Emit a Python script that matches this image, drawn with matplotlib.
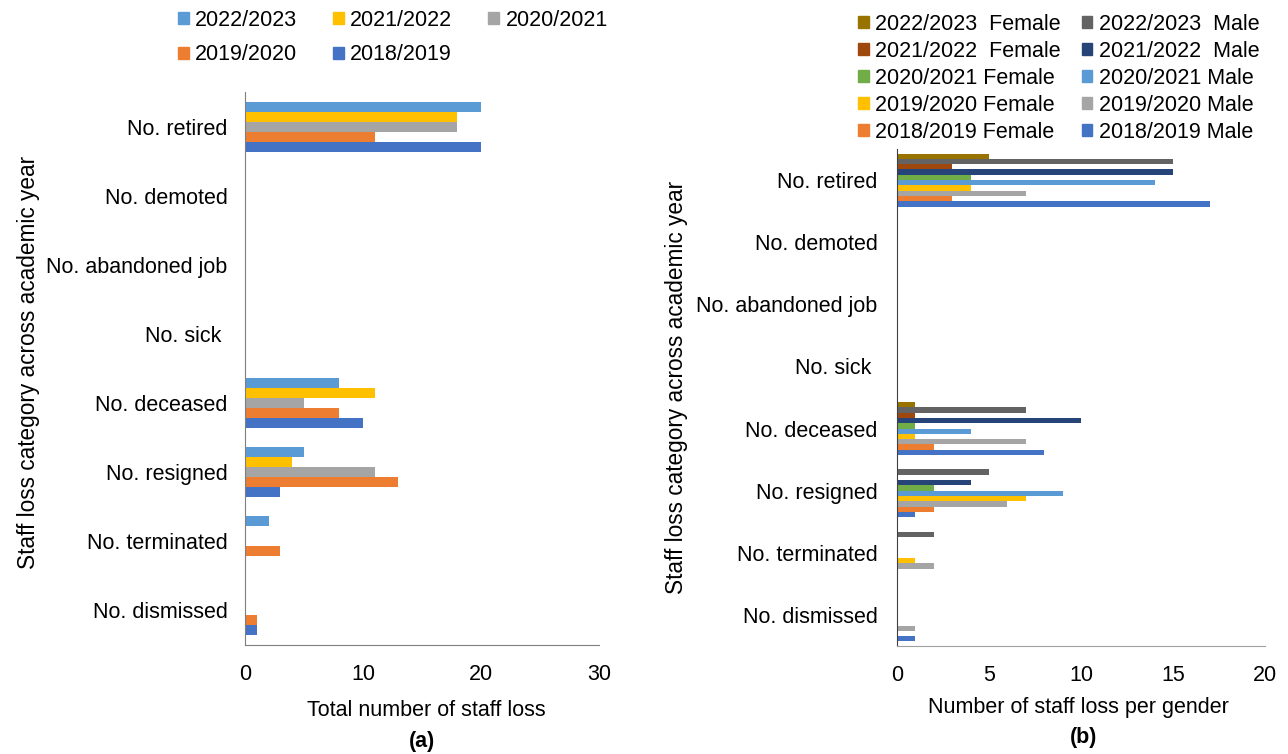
import numpy as np
import matplotlib
matplotlib.use("Agg")
import matplotlib.pyplot as plt
from matplotlib.patches import Patch

plt.rcParams['font.family'] = ['Liberation Sans', 'DejaVu Sans']
plt.rcParams['font.size'] = 15.5

# categories, top to bottom as shown
categories = ["No. retired", "No. demoted", "No. abandoned job", "No. sick ",
              "No. deceased", "No. resigned", "No. terminated", "No. dismissed"]

# (a) totals per academic year
years = ["2018/2019", "2019/2020", "2020/2021", "2021/2022", "2022/2023"]
tot_2018 = [20, 0, 0, 0, 10, 3, 0, 1]
tot_2019 = [11, 0, 0, 0, 8, 13, 3, 1]
tot_2020 = [18, 0, 0, 0, 5, 11, 0, 0]
tot_2021 = [18, 0, 0, 0, 11, 4, 0, 0]
tot_2022 = [20, 0, 0, 0, 8, 5, 2, 0]
year_colors = ["#4472C4", "#ED7D31", "#A5A5A5", "#FFC000", "#5B9BD5"]

# (b) per gender
f_2018 = [3, 0, 0, 0, 2, 2, 0, 0]
m_2018 = [17, 0, 0, 0, 8, 1, 0, 1]
f_2019 = [4, 0, 0, 0, 1, 7, 1, 0]
m_2019 = [7, 0, 0, 0, 7, 6, 2, 1]
f_2020 = [4, 0, 0, 0, 1, 2, 0, 0]
m_2020 = [14, 0, 0, 0, 4, 9, 0, 0]
f_2021 = [3, 0, 0, 0, 1, 0, 0, 0]
m_2021 = [15, 0, 0, 0, 10, 4, 0, 0]
f_2022 = [5, 0, 0, 0, 1, 0, 0, 0]
m_2022 = [15, 0, 0, 0, 7, 5, 2, 0]

# bottom-to-top series order in each group
gender_series = [
    ("2018/2019 Male", m_2018, "#4472C4"),
    ("2018/2019 Female", f_2018, "#ED7D31"),
    ("2019/2020 Male", m_2019, "#A5A5A5"),
    ("2019/2020 Female", f_2019, "#FFC000"),
    ("2020/2021 Male", m_2020, "#5B9BD5"),
    ("2020/2021 Female", f_2020, "#70AD47"),
    ("2021/2022  Male", m_2021, "#264478"),
    ("2021/2022  Female", f_2021, "#9E480E"),
    ("2022/2023  Male", m_2022, "#636363"),
    ("2022/2023  Female", f_2022, "#997300"),
]

W, H = 1288, 754
fig = plt.figure(figsize=(W / 100, H / 100), dpi=100)

def px_axes(x0, x1, ytop, ybot):
    return fig.add_axes([x0 / W, 1 - ybot / H, (x1 - x0) / W, (ybot - ytop) / H])

ypos = np.arange(len(categories))[::-1]  # retired at top

# ---- (a)
ax1 = px_axes(245, 599, 92.5, 644.5)
totals = [tot_2018, tot_2019, tot_2020, tot_2021, tot_2022]
h1 = 0.145
for i, (vals, col) in enumerate(zip(totals, year_colors)):
    ax1.barh(ypos + (i - 2) * h1, vals, height=h1, color=col, label=years[i])
ax1.set_xlim(0, 30)
ax1.set_xticks([0, 10, 20, 30])
ax1.set_ylim(-0.5, len(categories) - 0.5)
ax1.set_yticks(ypos)
ax1.set_yticklabels(categories)

# ---- (b)
ax2 = px_axes(897, 1265, 149, 646)
h2 = 0.0855
for j, (lab, vals, col) in enumerate(gender_series):
    ax2.barh(ypos + (j - 4.5) * h2, vals, height=h2, color=col, label=lab)
ax2.set_xlim(0, 20)
ax2.set_xticks([0, 5, 10, 15, 20])
ax2.set_ylim(-0.5, len(categories) - 0.5)
ax2.set_yticks(ypos)
ax2.set_yticklabels(categories)

for ax in (ax1, ax2):
    for s in ("top", "right"):
        ax.spines[s].set_visible(False)
    ax.tick_params(length=0)
    ax.tick_params(axis="x", pad=14)
ax1.tick_params(axis="y", pad=12.5)
ax2.tick_params(axis="y", pad=14)
ax1.spines["left"].set_color("#7f7f7f")
ax1.spines["bottom"].set_color("#7f7f7f")
ax2.spines["left"].set_color("#404040")
ax2.spines["bottom"].set_color("#a0a0a0")

# axis titles
fig.text(29 / W, 1 - 362 / H, "Staff loss category across academic year",
         rotation=90, ha="center", va="center", fontsize=16.3)
fig.text(677 / W, 1 - 387 / H, "Staff loss category across academic year",
         rotation=90, ha="center", va="center", fontsize=16.3)
fig.text(426 / W, 1 - 710 / H, "Total number of staff loss", ha="center", va="center")
fig.text(422 / W, 1 - 741 / H, "(a)", ha="center", va="center", fontweight="bold")
fig.text(1078 / W, 1 - 707 / H, "Number of staff loss per gender", ha="center", va="center")
fig.text(1084 / W, 1 - 737 / H, "(b)", ha="center", va="center", fontweight="bold")

# legends
leg_a_order = [4, 1, 3, 0, 2]
handles_a = [Patch(color=year_colors[k]) for k in leg_a_order]
labels_a = [years[k] for k in leg_a_order]
fig.legend(handles_a, labels_a, ncols=3, loc="upper left",
           bbox_to_anchor=(178 / W, 1 - 10 / H), frameon=False,
           handlelength=0.5, handleheight=0.5, handletextpad=0.3,
           columnspacing=1.66, labelspacing=0.62, borderpad=0, borderaxespad=0)

leg_b_order = [9, 7, 5, 3, 1, 8, 6, 4, 2, 0]
handles_b = [Patch(color=gender_series[k][2]) for k in leg_b_order]
labels_b = [gender_series[k][0] for k in leg_b_order]
fig.legend(handles_b, labels_b, ncols=2, loc="upper left",
           bbox_to_anchor=(858 / W, 1 - 14 / H), frameon=False,
           handlelength=0.5, handleheight=0.5, handletextpad=0.3,
           columnspacing=0.97, labelspacing=0.275, borderpad=0, borderaxespad=0)

fig.savefig("out.png", dpi=100)
